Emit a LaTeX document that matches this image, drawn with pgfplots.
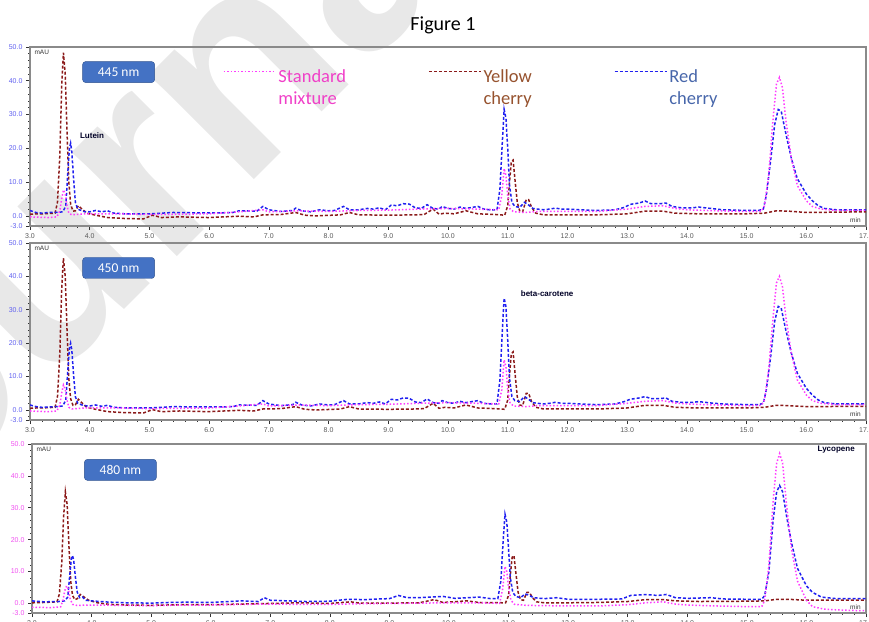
\documentclass[border=0pt]{standalone}
\usepackage{pgfplots}
\pgfplotsset{compat=1.18}
\usepackage{fontspec}
\setmainfont{Carlito}
\newfontfamily\arial{Liberation Sans}
\definecolor{stdc}{HTML}{FF3CFF}
\definecolor{yelc}{HTML}{8B1A1A}
\definecolor{redc}{HTML}{2020F0}
\definecolor{stdt}{HTML}{F040C8}
\definecolor{yelt}{HTML}{96522E}
\definecolor{redt}{HTML}{4766AA}
\definecolor{boxc}{HTML}{4472C4}
\definecolor{boxd}{HTML}{2F528F}
\definecolor{tickb}{HTML}{6060F0}
\definecolor{tickm}{HTML}{F050F0}
\definecolor{framec}{HTML}{8A8A8A}
\tikzset{
 nmbox/.style={fill=boxc, draw=boxd, rounded corners=3pt, text=white, minimum width=72pt, minimum height=21pt, inner sep=0pt, font=\fontsize{13.5}{14}\selectfont},
 small/.style={font=\arial\fontsize{6.5}{7}\selectfont, inner sep=1pt, text=black!80},
 ann/.style={font=\arial\bfseries\fontsize{8}{9}\selectfont, text=black!85!blue},
}
\pgfplotsset{
 stdp/.style={color=stdc, dotted, line width=1.5pt},
 yelp/.style={color=yelc, densely dashed, line width=1.5pt},
 redp/.style={color=redc, densely dashed, line width=1.5pt},
 chrom/.style={
   scale only axis, width=836pt, anchor=south west,
   xmin=3, xmax=17, ymin=-3, ymax=50,
   xtick={3,...,17}, minor xtick={3.2,3.4,...,16.8},
   ytick={-3,0,10,20,30,40,50}, minor ytick={-2,2,4,...,48},
   tick align=outside, tick pos=left,
   major tick length=4pt, minor tick length=2pt,
   tick style={black!80, line width=0.6pt},
   axis line style={framec, line width=1.2pt},
   /pgf/number format/.cd, fixed, fixed zerofill, precision=1, assume math mode=true, /pgfplots/.cd,
   ticklabel style={font=\arial\fontsize{7}{8}\selectfont},
   xticklabel style={text=black!65},
   yticklabel style={text=tickb},
 },
}
\begin{document}
\begin{tikzpicture}
\useasboundingbox (0pt,0pt) rectangle (869pt,621pt);
% watermark
\node[rotate=45, text=black!9, font=\arial\bfseries\fontsize{280}{280}\selectfont, anchor=base west, inner sep=0pt] at (-189pt,-2pt) {Journal Pre-proof};
\node[font=\fontsize{20}{24}\selectfont] at (443pt,596pt) {Figure 1};

% ---------- 445 nm ----------
\begin{axis}[chrom, at={(30pt,395pt)}, height=179pt,
  legend columns=3,
  legend style={draw=none, fill=none, at={(0.227,0.91)}, anchor=north west,
    font=\fontsize{18.5}{22}\selectfont, cells={anchor=base west},
    /tikz/every even column/.append style={column sep=80pt}},
  legend image code/.code={\draw[#1] (0pt,11pt) -- (52pt,11pt);}]
\addlegendimage{stdp}
\addlegendentry{\textcolor{stdt}{\begin{tabular}[t]{@{}l@{}}Standard\\mixture\end{tabular}}}
\addlegendimage{yelp}
\addlegendentry{\textcolor{yelt}{\begin{tabular}[t]{@{}l@{}}Yellow\\cherry\end{tabular}}}
\addlegendimage{redp}
\addlegendentry{\textcolor{redt}{\begin{tabular}[t]{@{}l@{}}Red\\cherry\end{tabular}}}
\addplot[yelp, forget plot] coordinates {(3.0,0.5)(3.1,0.6)(3.2,0.6)(3.3,0.7)(3.42,0.8)(3.46,4)(3.5,18)(3.53,38)(3.56,48.3)(3.59,42)(3.62,25)(3.65,10)(3.68,3.5)(3.72,1.4)(3.76,1.5)(3.81,3.0)(3.86,2.2)(3.95,0.8)(4.1,0.2)(4.3,-0.5)(4.6,-0.8)(4.9,-0.9)(5.05,0.2)(5.2,-0.5)(5.5,-0.3)(6.0,-0.5)(6.5,-0.1)(6.75,-0.3)(6.9,0.3)(7.2,0.4)(7.45,1.0)(7.6,0.2)(7.8,0.0)(8.2,0.3)(8.35,1.0)(8.5,0.3)(9.0,0.2)(9.45,0.3)(9.6,0.4)(9.75,2.0)(9.85,0.5)(9.95,0.8)(10.1,0.6)(10.3,1.5)(10.5,0.6)(10.8,0.4)(10.95,0.2)(11.0,3)(11.03,10)(11.06,16)(11.09,16.5)(11.12,11)(11.16,4)(11.2,1.5)(11.25,1.2)(11.31,4.8)(11.35,4.8)(11.4,2.5)(11.47,0.8)(11.6,0.3)(12.0,0.3)(12.5,0.3)(13.0,0.6)(13.3,1.4)(13.6,1.4)(13.8,0.8)(14.2,0.6)(15.0,0.6)(15.3,0.8)(15.5,1.5)(15.7,1.4)(16.0,1.0)(17.0,1.2)};
\addplot[redp, forget plot] coordinates {(3.0,1.6)(3.1,1.0)(3.2,0.8)(3.3,1.0)(3.45,1.0)(3.55,1.2)(3.6,3)(3.63,12)(3.66,20)(3.68,21.5)(3.70,19)(3.73,11)(3.76,4)(3.8,2.0)(3.9,1.3)(4.0,1.2)(4.1,1.6)(4.2,1.2)(4.3,1.5)(4.4,0.8)(4.6,0.6)(5.0,0.6)(5.2,0.8)(5.4,1.0)(5.8,0.9)(6.2,0.9)(6.4,1.0)(6.5,1.5)(6.8,1.4)(6.9,2.8)(7.0,1.8)(7.2,1.3)(7.4,1.6)(7.45,2.3)(7.55,1.5)(7.7,1.2)(7.85,1.8)(8.0,1.5)(8.1,1.6)(8.25,2.8)(8.35,1.8)(8.5,1.8)(8.65,2.2)(8.75,2.0)(8.85,2.4)(8.95,1.8)(9.05,3.2)(9.15,3.0)(9.25,3.6)(9.35,3.5)(9.45,2.4)(9.55,2.2)(9.65,3.3)(9.75,2.2)(9.85,2.0)(9.9,2.8)(10.0,2.2)(10.1,2.0)(10.2,2.6)(10.3,2.2)(10.4,2.5)(10.5,2.8)(10.6,2.0)(10.7,1.8)(10.82,1.8)(10.87,8)(10.91,22)(10.94,31.5)(10.97,29)(11.0,20)(11.03,9)(11.07,4)(11.12,2.8)(11.2,2.5)(11.28,4.0)(11.35,3.2)(11.42,2.2)(11.5,2.0)(11.6,1.8)(11.7,2.0)(11.8,2.3)(11.9,2.0)(12.0,2.0)(12.2,1.8)(12.5,1.6)(12.8,1.8)(12.95,2.5)(13.05,3.4)(13.2,3.8)(13.3,4.4)(13.4,3.6)(13.55,3.6)(13.65,3.8)(13.75,2.8)(13.9,2.4)(14.1,2.4)(14.2,2.6)(14.4,2.2)(14.6,1.8)(15.0,1.6)(15.2,1.6)(15.28,2)(15.33,6)(15.4,16)(15.47,27)(15.53,31.5)(15.58,31)(15.65,25)(15.75,17)(15.85,11)(16.0,6.5)(16.1,4.5)(16.2,3.0)(16.3,2.2)(16.5,1.8)(17.0,1.8)};
\addplot[stdp, forget plot] coordinates {(3.0,-0.3)(3.3,-0.5)(3.45,-0.3)(3.5,1.5)(3.53,5)(3.56,7.7)(3.59,6.5)(3.62,3)(3.65,0.8)(3.7,0.3)(3.9,0.6)(4.5,0.6)(5.0,0.4)(6.0,0.6)(6.5,1.2)(6.9,1.8)(7.0,1.2)(7.5,1.5)(8.0,1.3)(8.5,1.6)(9.0,1.7)(9.5,2.0)(10.0,2.2)(10.5,2.0)(10.85,1.8)(10.9,6)(10.94,14)(10.97,12)(11.0,6)(11.04,2)(11.1,1.2)(11.3,1.0)(11.5,1.3)(12.0,1.3)(12.5,1.3)(13.0,2.0)(13.3,2.8)(13.6,3.0)(13.8,2.2)(14.0,1.8)(14.5,1.5)(15.0,1.3)(15.25,1.4)(15.3,3)(15.37,12)(15.44,28)(15.5,39)(15.55,41)(15.6,38)(15.66,28)(15.75,17)(15.85,9)(16.0,4.5)(16.1,2.8)(16.25,2)(16.5,1.6)(17.0,1.6)};
\node[nmbox] at (rel axis cs:0.106,0.86) {445 nm};
\node[small, anchor=north west] at (rel axis cs:0.004,0.99) {mAU};
\node[small, anchor=south east] at (rel axis cs:0.995,0.015) {min};
\node[ann] at (axis cs:4.04,23.7) {Lutein};
\end{axis}

% ---------- 450 nm ----------
\begin{axis}[chrom, at={(30pt,201pt)}, height=177pt]
\addplot[yelp] coordinates {(3.0,0.5)(3.1,0.6)(3.2,0.6)(3.3,0.7)(3.42,0.8)(3.46,4)(3.5,17)(3.53,36)(3.56,45.5)(3.59,40)(3.62,24)(3.65,9.5)(3.68,3.4)(3.72,1.4)(3.76,1.5)(3.81,3.2)(3.86,2.3)(3.95,0.8)(4.1,0.2)(4.3,-0.5)(4.6,-0.8)(4.9,-0.9)(5.05,0.1)(5.2,-0.5)(5.5,-0.3)(6.0,-0.5)(6.5,-0.1)(6.75,-0.3)(6.9,0.3)(7.2,0.4)(7.45,1.0)(7.6,0.2)(7.8,0.0)(8.2,0.3)(8.35,1.0)(8.5,0.3)(9.0,0.2)(9.45,0.3)(9.6,0.4)(9.75,2.0)(9.85,0.5)(9.95,0.8)(10.1,0.6)(10.3,1.5)(10.5,0.6)(10.8,0.4)(10.95,0.2)(11.0,3)(11.03,10.5)(11.06,16.8)(11.09,17.4)(11.12,11.5)(11.16,4)(11.2,1.5)(11.25,1.3)(11.31,5)(11.35,5)(11.4,2.5)(11.47,0.8)(11.6,0.3)(12.0,0.3)(12.5,0.3)(13.0,0.6)(13.3,1.4)(13.6,1.4)(13.8,0.8)(14.2,0.6)(15.0,0.6)(15.3,0.8)(15.5,1.4)(15.7,1.3)(16.0,1.0)(17.0,1.1)};
\addplot[redp] coordinates {(3.0,1.5)(3.1,1.0)(3.2,0.8)(3.3,0.9)(3.45,1.0)(3.55,1.2)(3.6,3)(3.63,11)(3.66,18.5)(3.68,20)(3.70,18)(3.73,10.5)(3.76,4)(3.8,2.0)(3.9,1.3)(4.0,1.2)(4.1,1.5)(4.2,1.1)(4.3,1.4)(4.4,0.8)(4.6,0.6)(5.0,0.6)(5.2,0.8)(5.4,1.0)(5.8,0.9)(6.2,0.9)(6.4,1.0)(6.5,1.5)(6.8,1.4)(6.9,2.8)(7.0,1.8)(7.2,1.3)(7.4,1.6)(7.45,2.3)(7.55,1.5)(7.7,1.2)(7.85,1.8)(8.0,1.5)(8.1,1.6)(8.25,2.8)(8.35,1.8)(8.5,1.8)(8.65,2.2)(8.75,2.0)(8.85,2.4)(8.95,1.8)(9.05,3.2)(9.15,3.0)(9.25,3.6)(9.35,3.5)(9.45,2.4)(9.55,2.2)(9.65,3.3)(9.75,2.2)(9.85,2.0)(9.9,2.8)(10.0,2.2)(10.1,2.0)(10.2,2.6)(10.3,2.2)(10.4,2.5)(10.5,2.8)(10.6,2.0)(10.7,1.8)(10.82,1.8)(10.87,9)(10.91,24)(10.94,33.5)(10.97,31)(11.0,21)(11.03,9.5)(11.07,4)(11.12,2.8)(11.2,2.5)(11.28,4.0)(11.35,3.2)(11.42,2.2)(11.5,2.0)(11.6,1.8)(11.7,2.0)(11.8,2.3)(11.9,2.0)(12.0,2.0)(12.2,1.8)(12.5,1.6)(12.8,1.8)(12.95,2.5)(13.05,3.2)(13.2,3.6)(13.3,4.0)(13.4,3.4)(13.55,3.4)(13.65,3.6)(13.75,2.6)(13.9,2.3)(14.1,2.3)(14.2,2.5)(14.4,2.1)(14.6,1.8)(15.0,1.6)(15.2,1.6)(15.28,2)(15.33,6)(15.4,15.5)(15.47,26.5)(15.53,31)(15.58,30.5)(15.65,24.5)(15.75,17)(15.85,11)(16.0,6.5)(16.1,4.5)(16.2,3.0)(16.3,2.2)(16.5,1.8)(17.0,1.8)};
\addplot[stdp] coordinates {(3.0,-0.3)(3.3,-0.5)(3.45,-0.3)(3.5,1.5)(3.53,5)(3.56,7.5)(3.59,6.3)(3.62,3)(3.65,0.8)(3.7,0.3)(3.9,0.6)(4.5,0.6)(5.0,0.4)(6.0,0.6)(6.5,1.2)(6.9,1.8)(7.0,1.2)(7.5,1.5)(8.0,1.3)(8.5,1.6)(9.0,1.7)(9.5,2.0)(10.0,2.2)(10.5,2.0)(10.85,1.8)(10.9,6)(10.94,15)(10.97,13)(11.0,6)(11.04,2)(11.1,1.2)(11.3,1.0)(11.5,1.3)(12.0,1.3)(12.5,1.3)(13.0,2.0)(13.3,2.6)(13.6,2.8)(13.8,2.1)(14.0,1.8)(14.5,1.5)(15.0,1.3)(15.25,1.4)(15.3,3)(15.37,12)(15.44,27)(15.5,38)(15.55,40)(15.6,37)(15.66,27.5)(15.75,17)(15.85,9)(16.0,4.5)(16.1,2.8)(16.25,2)(16.5,1.6)(17.0,1.6)};
\node[nmbox] at (rel axis cs:0.106,0.859) {450 nm};
\node[small, anchor=north west] at (rel axis cs:0.004,0.99) {mAU};
\node[small, anchor=south east] at (rel axis cs:0.995,0.015) {min};
\node[ann] at (axis cs:11.66,34.7) {beta-carotene};
\end{axis}

% ---------- 480 nm ----------
\begin{axis}[chrom, at={(32pt,8pt)}, width=834pt, height=169pt, yticklabel style={text=tickm}]
\addplot[yelp] coordinates {(3.0,0.2)(3.2,0.3)(3.42,0.5)(3.46,3)(3.5,13)(3.53,27)(3.56,35)(3.59,31)(3.62,18)(3.65,7)(3.68,2.5)(3.72,1.2)(3.76,1.5)(3.81,2.8)(3.86,2.2)(3.95,1.0)(4.1,0.2)(4.3,-0.3)(4.6,-0.5)(5.0,-0.6)(5.5,-0.4)(6.0,-0.4)(6.5,-0.2)(7.0,0.0)(7.5,0.2)(8.0,0.0)(8.35,0.5)(8.5,0.1)(9.0,0.1)(9.5,0.2)(9.75,1.2)(9.9,0.3)(10.3,0.8)(10.5,0.3)(10.95,0.2)(11.0,2.5)(11.03,9)(11.06,14.5)(11.09,15)(11.12,10)(11.16,3.5)(11.2,1.2)(11.25,1.0)(11.31,3.5)(11.35,3.5)(11.4,1.8)(11.47,0.5)(11.6,0.2)(12.0,0.2)(12.5,0.3)(13.0,0.6)(13.3,1.2)(13.6,1.2)(13.8,0.8)(14.2,0.6)(15.0,0.7)(15.3,0.8)(15.5,1.3)(15.7,1.3)(16.0,1.0)(17.0,1.0)};
\addplot[redp] coordinates {(3.0,0.8)(3.2,0.5)(3.45,0.6)(3.55,0.8)(3.6,2)(3.63,8)(3.66,14)(3.68,15)(3.70,13.5)(3.73,8)(3.76,3.5)(3.8,1.8)(3.85,2.0)(3.9,1.0)(4.0,0.8)(4.3,0.4)(4.6,0.2)(5.0,0.1)(5.3,0.3)(5.6,0.4)(6.0,0.3)(6.5,0.8)(6.8,0.6)(6.9,1.8)(7.0,1.0)(7.3,0.8)(7.6,0.6)(8.0,0.7)(8.3,1.3)(8.6,1.2)(8.8,1.4)(9.0,1.5)(9.15,2.5)(9.3,1.8)(9.5,1.8)(9.7,2.0)(9.9,2.2)(10.1,1.6)(10.3,1.8)(10.5,2.0)(10.7,1.5)(10.82,1.5)(10.87,7)(10.91,20)(10.94,28)(10.97,25.5)(11.0,17)(11.03,8)(11.07,3.5)(11.12,2.2)(11.2,1.8)(11.28,3.0)(11.35,2.5)(11.42,1.8)(11.6,1.5)(11.8,1.8)(12.0,1.3)(12.5,1.3)(12.9,1.4)(13.05,2.5)(13.3,2.8)(13.5,2.5)(13.65,2.8)(13.8,1.8)(14.0,1.6)(14.4,1.8)(14.6,1.4)(15.0,1.3)(15.25,1.3)(15.3,2.5)(15.37,10)(15.44,26)(15.5,35)(15.55,37)(15.6,35)(15.67,27)(15.75,19)(15.85,11)(16.0,5.5)(16.1,3.5)(16.25,2)(16.5,1.5)(17.0,1.5)};
\addplot[stdp] coordinates {(3.0,-1.2)(3.3,-1.3)(3.48,-1.1)(3.52,1)(3.55,4)(3.58,5.5)(3.61,4.5)(3.64,1.5)(3.68,-0.3)(3.75,-0.6)(4.0,-0.5)(4.5,-0.6)(5.0,-0.7)(5.5,-0.5)(6.0,-0.5)(6.5,-0.3)(7.0,-0.2)(7.5,-0.3)(8.0,-0.3)(8.5,-0.1)(9.0,0.0)(9.5,0.1)(10.0,0.2)(10.5,0.2)(10.85,0.0)(10.9,4.5)(10.94,11.6)(10.97,10)(11.0,5)(11.04,1)(11.1,-0.3)(11.3,-0.6)(11.6,-0.7)(12.0,-0.8)(12.5,-0.8)(13.0,-0.4)(13.3,0.2)(13.6,0.5)(13.8,-0.2)(14.0,-0.5)(14.5,-0.8)(15.0,-1.0)(15.25,-1.0)(15.3,1)(15.37,12)(15.44,32)(15.5,44)(15.55,47)(15.6,44)(15.66,32)(15.75,17)(15.85,7)(16.0,1)(16.1,-1)(16.3,-1.8)(16.6,-2.1)(17.0,-2.3)};
\node[nmbox] at (rel axis cs:0.106,0.847) {480 nm};
\node[small, anchor=north west] at (rel axis cs:0.004,0.99) {mAU};
\node[small, anchor=south east] at (rel axis cs:0.995,0.015) {min};
\node[ann] at (axis cs:16.5,48.4) {Lycopene};
\end{axis}
\end{tikzpicture}
\end{document}
